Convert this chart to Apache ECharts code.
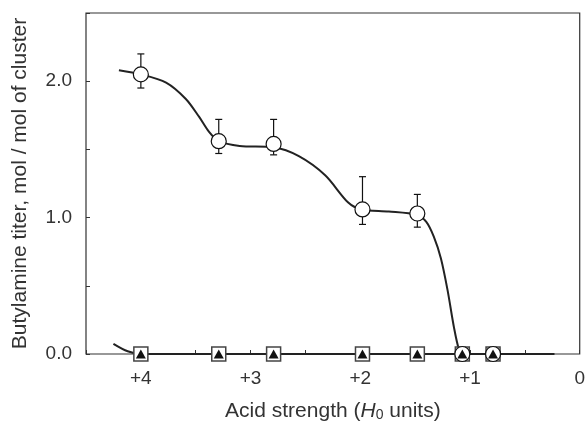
<!DOCTYPE html>
<html>
<head>
<meta charset="utf-8">
<script src="https://cdn.jsdelivr.net/npm/echarts@6/dist/echarts.min.js"></script>
<style>
  html, body { margin: 0; padding: 0; background: #fff; }
  #main { width: 588px; height: 427px; }
</style>
</head>
<body>
<div id="main"></div>
<script>
  // measured points (H0, titer)
  var acidX = [4.0, 3.29, 2.79, 1.98, 1.48, 1.07, 0.79];
  var circleY = [2.05, 1.56, 1.54, 1.06, 1.03, 0, 0];
  var errLow = [1.95, 1.47, 1.46, 0.95, 0.93, null, null];
  var errHigh = [2.20, 1.72, 1.72, 1.30, 1.17, null, null];
  var triangleY = [0, 0, 0, 0, 0, 0, 0];

  // fitted curves
  var fitCircle = [
    [4.20, 2.08], [4.00, 2.05], [3.77, 1.99], [3.59, 1.87], [3.47, 1.74],
    [3.38, 1.63], [3.29, 1.56], [3.10, 1.525], [2.79, 1.515], [2.56, 1.45],
    [2.32, 1.31], [2.11, 1.11], [1.99, 1.06], [1.74, 1.045], [1.485, 1.02],
    [1.40, 0.97], [1.33, 0.86], [1.265, 0.70], [1.205, 0.47], [1.145, 0.19], [1.10, 0.03], [1.07, 0]
  ];
  var fitTriangle = [[4.25, 0.075], [4.12, 0.02], [4.0, 0], [0.23, 0]];

  var xTickLabels = { '4': '+4', '3': '+3', '2': '+2', '1': '+1', '0': '0' };
  var yTickLabels = { '0': '0.0', '1': '1.0', '2': '2.0' };

  var myChart = echarts.init(document.getElementById('main'));

  var points = acidX.map(function (x, i) { return [x, circleY[i]]; });
  var tris = acidX.map(function (x, i) { return [x, triangleY[i]]; });
  var errData = [];
  acidX.forEach(function (x, i) {
    if (errLow[i] != null) errData.push([x, errLow[i], errHigh[i]]);
  });

  var option = {
    animation: false,
    textStyle: { fontFamily: 'Liberation Sans, Arial, sans-serif' },
    grid: {
      left: 86, right: 2, top: 13, bottom: 71,
      show: true, borderColor: '#333', borderWidth: 1.2
    },
    xAxis: {
      type: 'value',
      inverse: true,
      min: 0, max: 4.5, interval: 0.5,
      name: 'Acid strength ({i|H}{s|0} units)',
      nameLocation: 'middle',
      nameGap: 46,
      nameTextStyle: {
        fontSize: 21, color: '#333',
        rich: {
          i: { fontSize: 21, fontStyle: 'italic', color: '#333' },
          s: { fontSize: 14, color: '#333', padding: [8, 0, 0, 0] }
        }
      },
      axisLine: { show: false, onZero: false },
      axisTick: { show: true, inside: true, length: 4, lineStyle: { color: '#333' } },
      splitLine: { show: false },
      axisLabel: {
        fontSize: 19, color: '#333', margin: 15,
        formatter: function (v) { return xTickLabels[String(v)] || ''; }
      }
    },
    yAxis: {
      type: 'value',
      min: 0, max: 2.5, interval: 0.5,
      name: 'Butylamine titer, mol / mol of cluster',
      nameLocation: 'middle',
      nameGap: 55,
      nameTextStyle: { fontSize: 21, color: '#333' },
      axisLine: { show: false, onZero: false },
      axisTick: { show: true, inside: true, length: 4, lineStyle: { color: '#333' } },
      splitLine: { show: false },
      axisLabel: {
        fontSize: 19, color: '#333', margin: 14,
        formatter: function (v) { return yTickLabels[String(v)] || ''; }
      }
    },
    series: [
      {
        type: 'line', data: fitTriangle, smooth: 0.3,
        showSymbol: false, lineStyle: { color: '#222', width: 2 }, z: 2
      },
      {
        type: 'line', data: fitCircle, smooth: 0.3,
        showSymbol: false, lineStyle: { color: '#222', width: 2 }, z: 2
      },
      {
        type: 'custom',
        data: errData,
        z: 3,
        renderItem: function (params, api) {
          var x = api.value(0);
          var lo = api.coord([x, api.value(1)]);
          var hi = api.coord([x, api.value(2)]);
          var cap = 3.5;
          var st = { stroke: '#111', lineWidth: 1.2 };
          return {
            type: 'group',
            children: [
              { type: 'line', shape: { x1: lo[0], y1: lo[1], x2: hi[0], y2: hi[1] }, style: st },
              { type: 'line', shape: { x1: lo[0] - cap, y1: lo[1], x2: lo[0] + cap, y2: lo[1] }, style: st },
              { type: 'line', shape: { x1: hi[0] - cap, y1: hi[1], x2: hi[0] + cap, y2: hi[1] }, style: st }
            ]
          };
        }
      },
      {
        type: 'scatter', data: tris, symbol: 'rect', symbolSize: 14, z: 4,
        itemStyle: { color: '#fff', borderColor: '#444', borderWidth: 1.5, opacity: 1 }
      },
      {
        type: 'scatter', data: points, symbol: 'circle', symbolSize: 15, z: 5,
        itemStyle: { color: '#fff', borderColor: '#111', borderWidth: 1.2, opacity: 1 }
      },
      {
        type: 'scatter', data: tris, symbol: 'triangle', symbolSize: [10, 9], z: 6,
        itemStyle: { color: '#111', opacity: 1 }
      }
    ]
  };

  myChart.setOption(option);
</script>
</body>
</html>
